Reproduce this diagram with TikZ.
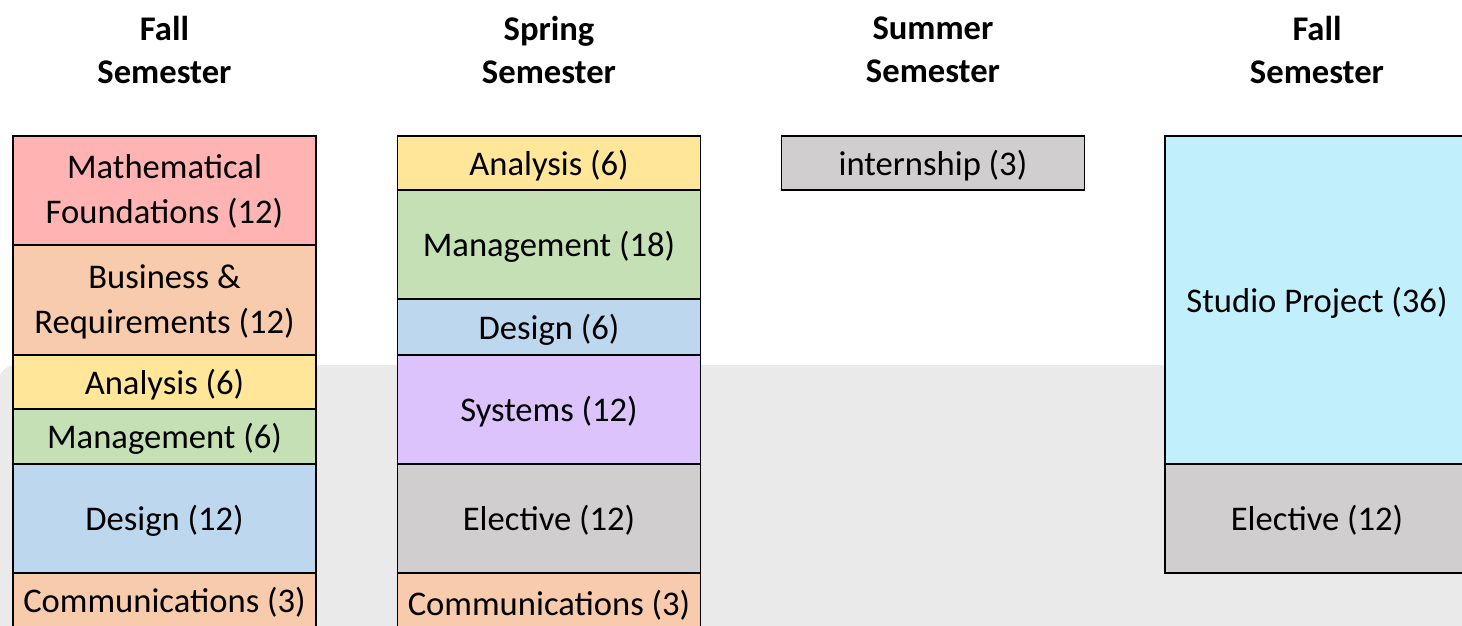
\documentclass[tikz,border=0pt]{standalone}
\usepackage{fontspec}
\setmainfont{Carlito}
\definecolor{mathred}{HTML}{FFB3B3}
\definecolor{bizpeach}{HTML}{F8CBAD}
\definecolor{anayellow}{HTML}{FFE699}
\definecolor{mgtgreen}{HTML}{C5E0B4}
\definecolor{desblue}{HTML}{BDD7EE}
\definecolor{syspurple}{HTML}{DCC3FB}
\definecolor{elegray}{HTML}{D0CECE}
\definecolor{studiocyan}{HTML}{C1EFFB}
\definecolor{backgray}{HTML}{EAEAEA}
\begin{document}
\begin{tikzpicture}[x=1pt,y=-1pt,
		course/.style={draw=black,line width=1.6pt,minimum width=303pt,inner sep=0pt,align=center,
			text depth=0.04em,font=\fontsize{34.6}{45}\selectfont},
		head/.style={align=center,font=\bfseries\fontsize{34.6}{43}\selectfont}]
				\useasboundingbox (0,0) rectangle (1462,626);
				\clip (0,0) rectangle (1462,626);
				\fill[backgray,rounded corners=18pt] (-2,365) rectangle (1500,700);
				% semester headings
				\node[head] (hfall) at (164.5,49.5) {Fall\\Semester};
				\node[head] (hspring) at (549,49.5) {Spring\\Semester};
				\node[head] (hsummer) at (933,49.5) {Summer\\Semester};
				\node[head] (hfalltwo) at (1317,49.5) {Fall\\Semester};
				% first fall
				\node[course,fill=mathred,minimum height=109pt,text depth=0.25em] (fmath) at (164.5,190.5) {Mathematical\\Foundations (12)};
				\node[course,fill=bizpeach,minimum height=110pt,text depth=0.15em] (fbiz) at (164.5,300) {Business \&\\Requirements (12)};
				\node[course,fill=anayellow,minimum height=54pt] (fana) at (164.5,382) {Analysis (6)};
				\node[course,fill=mgtgreen,minimum height=55pt] (fmgt) at (164.5,436.5) {Management (6)};
				\node[course,fill=desblue,minimum height=109pt] (fdes) at (164.5,518.5) {Design (12)};
				\node[course,fill=bizpeach,minimum height=56pt,text depth=0.25em] (fcom) at (164.5,601) {Communications (3)};
				% spring
				\node[course,fill=anayellow,minimum height=54pt] (sana) at (549,163) {Analysis (6)};
				\node[course,fill=mgtgreen,minimum height=109pt] (smgt) at (549,244.5) {Management (18)};
				\node[course,fill=desblue,minimum height=56pt] (sdes) at (549,327) {Design (6)};
				\node[course,fill=syspurple,minimum height=109pt] (ssys) at (549,409.5) {Systems (12)};
				\node[course,fill=elegray,minimum height=109pt] (sele) at (549,518.5) {Elective (12)};
				\node[course,fill=bizpeach,minimum height=62pt,text depth=0.25em] (scom) at (549,604) {Communications (3)};
				% summer
				\node[course,fill=elegray,minimum height=54pt] (uint) at (933,163) {internship (3)};
				% second fall
				\node[course,fill=studiocyan,minimum height=328pt,minimum width=304pt] (gstudio) at (1317,300) {Studio Project (36)};
				\node[course,fill=elegray,minimum height=109pt,minimum width=304pt] (gele) at (1317,518.5) {Elective (12)};
\end{tikzpicture}
\end{document}
